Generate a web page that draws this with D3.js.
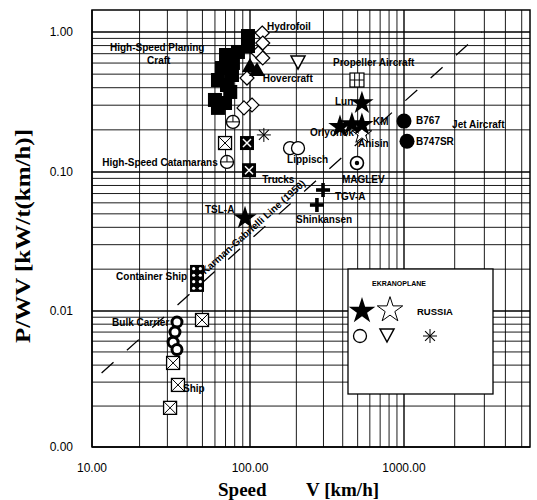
<!DOCTYPE html>
<html><head><meta charset="utf-8">
<script src="https://cdn.jsdelivr.net/npm/d3@7"></script>
<style>body{margin:0;background:#fff}</style>
</head><body>
<svg id="c" width="537" height="500"></svg>
<script>
// ---------------- DATA (speed km/h, P/WV) ----------------
const planingCraft = [[97.1,0.936],[97.1,0.794],[83.9,0.720],[70.5,0.685],[78.0,0.601],[66.5,0.553],[76.9,0.493],[62.7,0.454],[71.5,0.418],[75.0,0.373],[60.0,0.327],[69.5,0.311],[62.7,0.287]];
const hydrofoil = [[120,0.984],[121,0.834],[113,0.708],[121,0.652],[95.7,0.469],[103,0.301],[91.6,0.287]];
const hovercraft = [[100,0.572],[111,0.535]];
const ekranoStarFilled = [[533,0.311],[384,0.210],[459,0.220],[533,0.217]];
const ekranoStarOpen = [[533,0.187]];
const ekranoCircle = [[182,0.148],[205,0.148]];
const ekranoTriangle = [[205,0.610]];
const russiaAsterisk = [[123,0.184]];
const propellerAircraft = [[495,0.454]];
const jetAircraft = [[1000,0.231],[1042,0.166]];
const maglev = [[495,0.116]];
const trains = [[298,0.0742],[272,0.0579]];
const tslA = [[93.0,0.0467]];
const catamarans = [[71.5,0.118],[78.0,0.228]];
const shipsBox = [[49.7,0.00859],[32.6,0.00415],[35.0,0.00286],[31.2,0.00194],[69.5,0.161]];
const trucksBox = [[95.7,0.161],[98.6,0.103]];
const containerShips = [[46.2,0.0191],[46.2,0.0154]];
const bulkCarriers = [[34.5,0.0083],[33.5,0.0070],[32.6,0.0059],[34.5,0.0052]];
const karmanLine = [[11.5,0.0035],[2900,1.0]];

const xTickValues = [10,100,1000];
const xTickLabels = ["10.00","100.00","1000.00"];
const yTickValues = [1,0.1,0.01,0.001];
const yTickLabels = ["1.00","0.10","0.01","0.00"];

const labelTexts = ["Hydrofoil","High-Speed Planing","Craft","Hovercraft","Propeller Aircraft","Lun","KM","Orlyonok","Anisin","B767","B747SR","Jet Aircraft","High-Speed Catamarans","Lippisch","Trucks","MAGLEV","TGV-A","Shinkansen","TSL-A","Container Ship","Bulk Carrier","Ship"];
const labelV = [129,13.0,22.3,121,346,356,629,245,503,1179,1179,1930,11.6,174,120,395,356,199,51.9,14.2,13.4,37.7];
const labelP = [1.086,0.769,0.621,0.469,0.610,0.321,0.231,0.190,0.161,0.235,0.166,0.220,0.116,0.122,0.0876,0.089,0.0661,0.0452,0.0533,0.0178,0.0083,0.00271];

// ---------------- SCALES ----------------
const svg = d3.select("#c");
const x = d3.scaleLog().domain([10,100,1000,5600]).range([92,250,404,530]);
const y = d3.scaleLog().domain([0.001,0.01,0.1,1,1.436]).range([447,311,172,32,10]);
const [x0,x1] = [x(10), x(5600)];
const [yb,yt] = [y(0.001), y(1.436)];

// grid
const xGrid = [], yGrid = [];
xTickValues.forEach(d => { for (let k=1;k<10;k++){ const v=d*k; if (v<5600) xGrid.push(v);} });
yTickValues.forEach(d => { for (let k=1;k<10;k++){ const v=d*k; if (v<=1) yGrid.push(v);} });
const g = svg.append("g");
g.selectAll(".vg").data(xGrid).join("line")
  .attr("x1",d=>x(d)).attr("x2",d=>x(d)).attr("y1",yt).attr("y2",yb)
  .attr("stroke","#000").attr("stroke-width",d=>xTickValues.includes(d)?1.4:0.9);
g.selectAll(".hg").data(yGrid).join("line")
  .attr("y1",d=>y(d)).attr("y2",d=>y(d)).attr("x1",x0).attr("x2",x1)
  .attr("stroke","#000").attr("stroke-width",d=>yTickValues.includes(d)?1.4:0.9);
g.append("rect").attr("x",x0).attr("y",yt).attr("width",x1-x0).attr("height",yb-yt)
  .attr("fill","none").attr("stroke","#000").attr("stroke-width",1.5);

// tick labels
const tickFont = "Liberation Sans, Arial, sans-serif";
svg.selectAll(".yt").data(yTickValues).join("text")
  .attr("x",73).attr("y",d=>y(d)).attr("dy","0.35em").attr("text-anchor","end")
  .attr("font-family",tickFont).attr("font-size",12).text((d,i)=>yTickLabels[i]);
svg.selectAll(".xt").data(xTickValues).join("text")
  .attr("x",d=>x(d)).attr("y",472).attr("text-anchor","middle")
  .attr("font-family",tickFont).attr("font-size",12).text((d,i)=>xTickLabels[i]);

// axis titles
const serif = "Liberation Serif, Times New Roman, serif";
svg.append("text").attr("transform","translate(30,236) rotate(-90)")
  .attr("text-anchor","middle").attr("font-family",serif)
  .attr("font-weight","bold").attr("font-size",22).attr("textLength",214).attr("lengthAdjust","spacingAndGlyphs")
  .text("P/WV [kW/t(km/h)]");
svg.append("text").attr("x",218).attr("y",496)
  .attr("font-family",serif).attr("font-weight","bold").attr("font-size",19).text("Speed");
svg.append("text").attr("x",306).attr("y",496)
  .attr("font-family",serif).attr("font-weight","bold").attr("font-size",19).text("V [km/h]");

// Karman-Gabrielli line
const kl = svg.append("g");
kl.append("line").attr("x1",x(karmanLine[0][0])).attr("y1",y(karmanLine[0][1]))
  .attr("x2",x(karmanLine[1][0])).attr("y2",y(karmanLine[1][1]))
  .attr("stroke","#000").attr("stroke-width",1.3).attr("stroke-dasharray","16,18");
{
  const ax=x(karmanLine[0][0]), ay=y(karmanLine[0][1]), bx=x(karmanLine[1][0]), by=y(karmanLine[1][1]);
  const ang = Math.atan2(by-ay,bx-ax)*180/Math.PI;
  const t = (x(54)-ax)/(bx-ax);
  const px = ax+t*(bx-ax), py = ay+t*(by-ay);
  kl.append("text").attr("transform",`translate(${px},${py}) rotate(${ang})`).attr("dy",-4)
    .attr("font-family",tickFont).attr("font-weight","bold").attr("font-size",10).text("Karman-Gabrielli Line (1950)");
}

// ---------------- MARKERS ----------------
function mark(sel, type){
  const K="#000", W="#fff";
  switch(type){
    case "sqFill": sel.append("rect").attr("x",-7).attr("y",-7).attr("width",14).attr("height",14).attr("fill",K); break;
    case "diamond": sel.append("path").attr("d","M0,-7L7,0L0,7L-7,0Z").attr("fill",W).attr("stroke",K).attr("stroke-width",1.2); break;
    case "triFill": sel.append("path").attr("d","M0,-8L8,6L-8,6Z").attr("fill",K); break;
    case "triDown": sel.append("path").attr("d","M-7,-6L7,-6L0,7Z").attr("fill",W).attr("stroke",K).attr("stroke-width",1.5); break;
    case "starFill": sel.append("path").attr("d",d3.symbol(d3.symbolStar,170)()).attr("fill",K); break;
    case "starOpen": sel.append("path").attr("d",d3.symbol(d3.symbolStar,120)()).attr("fill",W).attr("stroke",K).attr("stroke-width",1); break;
    case "asterisk": [0,45,90,135].forEach(a=>sel.append("line").attr("x1",-7).attr("x2",7).attr("y1",0).attr("y2",0).attr("transform",`rotate(${a})`).attr("stroke",K).attr("stroke-width",1)); break;
    case "circle": sel.append("circle").attr("r",6.5).attr("fill",W).attr("stroke",K).attr("stroke-width",1.3); break;
    case "circleDot": sel.append("circle").attr("r",6.5).attr("fill",W).attr("stroke",K).attr("stroke-width",1.6); sel.append("circle").attr("r",2.2).attr("fill",K); break;
    case "circleLine": sel.append("circle").attr("r",6.5).attr("fill",W).attr("stroke",K).attr("stroke-width",1.3); sel.append("line").attr("x1",-6.5).attr("x2",6.5).attr("stroke",K); sel.append("line").attr("y1",-6.5).attr("y2",0).attr("stroke",K); break;
    case "boxX": sel.append("rect").attr("x",-6.5).attr("y",-6.5).attr("width",13).attr("height",13).attr("fill",W).attr("stroke",K).attr("stroke-width",1.3);
      sel.append("path").attr("d","M-6,-6L6,6M6,-6L-6,6").attr("stroke",K).attr("stroke-width",1); break;
    case "boxXFill": sel.append("rect").attr("x",-7).attr("y",-7).attr("width",14).attr("height",14).attr("fill",K);
      sel.append("path").attr("d","M-4,-4L4,4M4,-4L-4,4").attr("stroke",W).attr("stroke-width",1.5); break;
    case "boxGrid": sel.append("rect").attr("x",-7).attr("y",-7).attr("width",14).attr("height",14).attr("fill",W).attr("stroke",K).attr("stroke-width",1.2);
      sel.append("path").attr("d","M-2.3,-7V7M2.3,-7V7M-7,0H7").attr("stroke",K).attr("stroke-width",1); break;
    case "circleFill": sel.append("circle").attr("r",7.5).attr("fill",K); break;
    case "plus": sel.append("rect").attr("x",-7).attr("y",-1.8).attr("width",14).attr("height",3.6).attr("fill",K);
      sel.append("rect").attr("x",-1.8).attr("y",-7).attr("width",3.6).attr("height",14).attr("fill",K); break;
    case "boxDots": sel.append("rect").attr("x",-7).attr("y",-7).attr("width",14).attr("height",14).attr("fill",K);
      [[-3.3,-3.3],[3.3,-3.3],[-3.3,3.3],[3.3,3.3]].forEach(p=>sel.append("circle").attr("cx",p[0]).attr("cy",p[1]).attr("r",1.6).attr("fill",W)); break;
    case "ring": sel.append("circle").attr("r",5).attr("fill",W).attr("stroke",K).attr("stroke-width",3); break;
  }
}
const seriesTable = [
  {data:hydrofoil,type:"diamond"},
  {data:planingCraft,type:"sqFill"},
  {data:hovercraft,type:"triFill"},
  {data:catamarans,type:"circleLine"},
  {data:shipsBox,type:"boxX"},
  {data:trucksBox,type:"boxXFill"},
  {data:containerShips,type:"boxDots"},
  {data:bulkCarriers,type:"ring"},
  {data:ekranoCircle,type:"circle"},
  {data:ekranoTriangle,type:"triDown"},
  {data:russiaAsterisk,type:"asterisk"},
  {data:propellerAircraft,type:"boxGrid"},
  {data:ekranoStarOpen,type:"starOpen"},
  {data:ekranoStarFilled,type:"starFill"},
  {data:jetAircraft,type:"circleFill"},
  {data:maglev,type:"circleDot"},
  {data:trains,type:"plus"},
  {data:tslA,type:"starFill"}
];
const mg = svg.append("g");
seriesTable.forEach(s=>{
  mg.selectAll(null).data(s.data).join("g")
    .attr("transform",d=>`translate(${x(d[0])},${y(d[1])})`)
    .each(function(){ mark(d3.select(this), s.type); });
});

// labels
svg.append("g").selectAll("text").data(labelTexts).join("text")
  .attr("x",(d,i)=>x(labelV[i])).attr("y",(d,i)=>y(labelP[i])).attr("dy","0.35em")
  .attr("font-family",tickFont).attr("font-weight","bold").attr("font-size",10).text(d=>d);

// legend
const lg = svg.append("g");
lg.append("rect").attr("x",348).attr("y",269).attr("width",145).attr("height",125)
  .attr("fill","#fff").attr("stroke","#000").attr("stroke-width",1.3);
lg.append("text").attr("x",399).attr("y",286).attr("text-anchor","middle").attr("font-family",tickFont)
  .attr("font-weight","bold").attr("font-size",7).text("EKRANOPLANE");
lg.append("text").attr("x",417).attr("y",315).attr("font-family",tickFont)
  .attr("font-weight","bold").attr("font-size",9.5).text("RUSSIA");
[["starFill",362,311],["starOpen",390,310],["circle",360,336],["triDown",387,335],["asterisk",430,336]].forEach(l=>{
  const s = lg.append("g").attr("transform",`translate(${l[1]},${l[2]})`);
  if (l[0]==="starFill") s.append("path").attr("d",d3.symbol(d3.symbolStar,220)()).attr("fill","#000");
  else if (l[0]==="starOpen") s.append("path").attr("d",d3.symbol(d3.symbolStar,200)()).attr("fill","#fff").attr("stroke","#000");
  else mark(s,l[0]);
});
</script>
</body></html>
